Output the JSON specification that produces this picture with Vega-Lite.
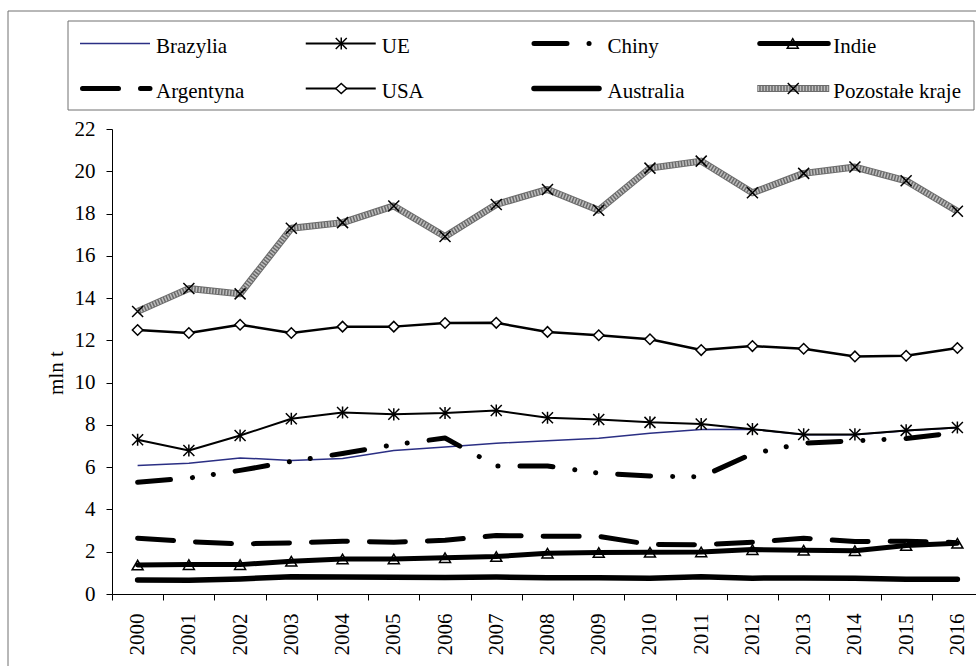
{
  "$schema": "https://vega.github.io/schema/vega-lite/v6.json",
  "width": 968,
  "height": 655,
  "autosize": {"type": "none"},
  "padding": {"left": 8, "top": 11, "right": 0, "bottom": 0},
  "background": "white",
  "config": {"view": {"stroke": null}, "font": "Liberation Serif"},
  "datasets": {
    "dane": [
      {"kraj":"Brazylia","rok":"2000","v":6.08},{"kraj":"Brazylia","rok":"2001","v":6.19},{"kraj":"Brazylia","rok":"2002","v":6.44},{"kraj":"Brazylia","rok":"2003","v":6.32},{"kraj":"Brazylia","rok":"2004","v":6.41},{"kraj":"Brazylia","rok":"2005","v":6.79},{"kraj":"Brazylia","rok":"2006","v":6.96},{"kraj":"Brazylia","rok":"2007","v":7.13},{"kraj":"Brazylia","rok":"2008","v":7.25},{"kraj":"Brazylia","rok":"2009","v":7.37},{"kraj":"Brazylia","rok":"2010","v":7.6},{"kraj":"Brazylia","rok":"2011","v":7.78},{"kraj":"Brazylia","rok":"2012","v":7.8},{"kraj":"Brazylia","rok":"2013","v":7.53},{"kraj":"Brazylia","rok":"2014","v":7.53},{"kraj":"Brazylia","rok":"2015","v":7.72},{"kraj":"Brazylia","rok":"2016","v":7.86},
      {"kraj":"UE","rok":"2000","v":7.3},{"kraj":"UE","rok":"2001","v":6.79},{"kraj":"UE","rok":"2002","v":7.5},{"kraj":"UE","rok":"2003","v":8.29},{"kraj":"UE","rok":"2004","v":8.59},{"kraj":"UE","rok":"2005","v":8.5},{"kraj":"UE","rok":"2006","v":8.56},{"kraj":"UE","rok":"2007","v":8.68},{"kraj":"UE","rok":"2008","v":8.34},{"kraj":"UE","rok":"2009","v":8.26},{"kraj":"UE","rok":"2010","v":8.12},{"kraj":"UE","rok":"2011","v":8.04},{"kraj":"UE","rok":"2012","v":7.8},{"kraj":"UE","rok":"2013","v":7.55},{"kraj":"UE","rok":"2014","v":7.55},{"kraj":"UE","rok":"2015","v":7.74},{"kraj":"UE","rok":"2016","v":7.88},
      {"kraj":"Chiny","rok":"2000","v":5.29},{"kraj":"Chiny","rok":"2001","v":5.48},{"kraj":"Chiny","rok":"2002","v":5.85},{"kraj":"Chiny","rok":"2003","v":6.27},{"kraj":"Chiny","rok":"2004","v":6.65},{"kraj":"Chiny","rok":"2005","v":7.06},{"kraj":"Chiny","rok":"2006","v":7.38},{"kraj":"Chiny","rok":"2007","v":6.06},{"kraj":"Chiny","rok":"2008","v":6.06},{"kraj":"Chiny","rok":"2009","v":5.72},{"kraj":"Chiny","rok":"2010","v":5.58},{"kraj":"Chiny","rok":"2011","v":5.54},{"kraj":"Chiny","rok":"2012","v":6.64},{"kraj":"Chiny","rok":"2013","v":7.14},{"kraj":"Chiny","rok":"2014","v":7.25},{"kraj":"Chiny","rok":"2015","v":7.36},{"kraj":"Chiny","rok":"2016","v":7.64},
      {"kraj":"Indie","rok":"2000","v":1.37},{"kraj":"Indie","rok":"2001","v":1.39},{"kraj":"Indie","rok":"2002","v":1.39},{"kraj":"Indie","rok":"2003","v":1.55},{"kraj":"Indie","rok":"2004","v":1.66},{"kraj":"Indie","rok":"2005","v":1.66},{"kraj":"Indie","rok":"2006","v":1.72},{"kraj":"Indie","rok":"2007","v":1.77},{"kraj":"Indie","rok":"2008","v":1.93},{"kraj":"Indie","rok":"2009","v":1.96},{"kraj":"Indie","rok":"2010","v":1.97},{"kraj":"Indie","rok":"2011","v":1.99},{"kraj":"Indie","rok":"2012","v":2.1},{"kraj":"Indie","rok":"2013","v":2.07},{"kraj":"Indie","rok":"2014","v":2.05},{"kraj":"Indie","rok":"2015","v":2.29},{"kraj":"Indie","rok":"2016","v":2.4},
      {"kraj":"Argentyna","rok":"2000","v":2.64},{"kraj":"Argentyna","rok":"2001","v":2.48},{"kraj":"Argentyna","rok":"2002","v":2.37},{"kraj":"Argentyna","rok":"2003","v":2.42},{"kraj":"Argentyna","rok":"2004","v":2.5},{"kraj":"Argentyna","rok":"2005","v":2.45},{"kraj":"Argentyna","rok":"2006","v":2.54},{"kraj":"Argentyna","rok":"2007","v":2.77},{"kraj":"Argentyna","rok":"2008","v":2.73},{"kraj":"Argentyna","rok":"2009","v":2.73},{"kraj":"Argentyna","rok":"2010","v":2.34},{"kraj":"Argentyna","rok":"2011","v":2.33},{"kraj":"Argentyna","rok":"2012","v":2.45},{"kraj":"Argentyna","rok":"2013","v":2.64},{"kraj":"Argentyna","rok":"2014","v":2.48},{"kraj":"Argentyna","rok":"2015","v":2.5},{"kraj":"Argentyna","rok":"2016","v":2.43},
      {"kraj":"USA","rok":"2000","v":12.49},{"kraj":"USA","rok":"2001","v":12.35},{"kraj":"USA","rok":"2002","v":12.74},{"kraj":"USA","rok":"2003","v":12.35},{"kraj":"USA","rok":"2004","v":12.65},{"kraj":"USA","rok":"2005","v":12.65},{"kraj":"USA","rok":"2006","v":12.82},{"kraj":"USA","rok":"2007","v":12.83},{"kraj":"USA","rok":"2008","v":12.4},{"kraj":"USA","rok":"2009","v":12.24},{"kraj":"USA","rok":"2010","v":12.05},{"kraj":"USA","rok":"2011","v":11.54},{"kraj":"USA","rok":"2012","v":11.73},{"kraj":"USA","rok":"2013","v":11.6},{"kraj":"USA","rok":"2014","v":11.24},{"kraj":"USA","rok":"2015","v":11.27},{"kraj":"USA","rok":"2016","v":11.64},
      {"kraj":"Australia","rok":"2000","v":0.66},{"kraj":"Australia","rok":"2001","v":0.65},{"kraj":"Australia","rok":"2002","v":0.71},{"kraj":"Australia","rok":"2003","v":0.82},{"kraj":"Australia","rok":"2004","v":0.8},{"kraj":"Australia","rok":"2005","v":0.79},{"kraj":"Australia","rok":"2006","v":0.78},{"kraj":"Australia","rok":"2007","v":0.8},{"kraj":"Australia","rok":"2008","v":0.77},{"kraj":"Australia","rok":"2009","v":0.77},{"kraj":"Australia","rok":"2010","v":0.74},{"kraj":"Australia","rok":"2011","v":0.82},{"kraj":"Australia","rok":"2012","v":0.75},{"kraj":"Australia","rok":"2013","v":0.76},{"kraj":"Australia","rok":"2014","v":0.74},{"kraj":"Australia","rok":"2015","v":0.7},{"kraj":"Australia","rok":"2016","v":0.7},
      {"kraj":"Pozostałe kraje","rok":"2000","v":13.37},{"kraj":"Pozostałe kraje","rok":"2001","v":14.45},{"kraj":"Pozostałe kraje","rok":"2002","v":14.2},{"kraj":"Pozostałe kraje","rok":"2003","v":17.3},{"kraj":"Pozostałe kraje","rok":"2004","v":17.57},{"kraj":"Pozostałe kraje","rok":"2005","v":18.36},{"kraj":"Pozostałe kraje","rok":"2006","v":16.91},{"kraj":"Pozostałe kraje","rok":"2007","v":18.43},{"kraj":"Pozostałe kraje","rok":"2008","v":19.14},{"kraj":"Pozostałe kraje","rok":"2009","v":18.16},{"kraj":"Pozostałe kraje","rok":"2010","v":20.15},{"kraj":"Pozostałe kraje","rok":"2011","v":20.48},{"kraj":"Pozostałe kraje","rok":"2012","v":18.98},{"kraj":"Pozostałe kraje","rok":"2013","v":19.9},{"kraj":"Pozostałe kraje","rok":"2014","v":20.2},{"kraj":"Pozostałe kraje","rok":"2015","v":19.55},{"kraj":"Pozostałe kraje","rok":"2016","v":18.11}
    ],
    "legenda": [
      {"kraj":"Brazylia","col":"0","row":"0"},
      {"kraj":"UE","col":"1","row":"0"},
      {"kraj":"Chiny","col":"2","row":"0"},
      {"kraj":"Indie","col":"3","row":"0"},
      {"kraj":"Argentyna","col":"0","row":"1"},
      {"kraj":"USA","col":"1","row":"1"},
      {"kraj":"Australia","col":"2","row":"1"},
      {"kraj":"Pozostałe kraje","col":"3","row":"1"}
    ]
  },
  "layer": [
    {
      "data": {"values": [{}]},
      "mark": {"type": "rect", "filled": false, "stroke": "#707070", "strokeWidth": 1},
      "encoding": {
        "x": {"datum": 0, "type": "quantitative", "scale": {"domain": [0, 1], "range": [0, 1000]}, "axis": null},
        "x2": {"datum": 1},
        "y": {"datum": 0, "type": "quantitative", "scale": {"domain": [0, 1], "range": [0, 700]}, "axis": null},
        "y2": {"datum": 1}
      }
    },
    {
      "data": {"name": "dane"},
      "encoding": {
        "x": {
          "field": "rok", "type": "ordinal", "bandPosition": 0.5,
          "scale": {"type": "band", "range": [104, 975], "paddingInner": 0, "paddingOuter": 0},
          "axis": {
            "title": null, "offset": -72, "tickBand": "extent", "labelAngle": -90,
            "labelAlign": "right", "labelBaseline": "middle", "labelPadding": 13,
            "labelFont": "Liberation Serif", "labelFontSize": 21, "labelColor": "black",
            "tickColor": "black", "tickSize": 6, "tickWidth": 1, "domainColor": "black", "domainWidth": 1,
            "grid": false, "labelOverlap": false, "labelBound": false
          }
        },
        "y": {
          "field": "v", "type": "quantitative",
          "scale": {"domain": [0, 22], "range": [583, 118], "nice": false, "zero": false},
          "axis": {
            "title": "mln t", "offset": -104, "values": [0,2,4,6,8,10,12,14,16,18,20,22],
            "labelFont": "Liberation Serif", "labelFontSize": 21, "labelColor": "black", "labelPadding": 11,
            "tickColor": "black", "tickSize": 6, "tickWidth": 1, "domainColor": "black", "domainWidth": 1,
            "grid": false, "labelOverlap": false,
            "titleFont": "Liberation Serif", "titleFontSize": 21, "titleFontWeight": "normal", "titleColor": "black",
            "titleAngle": -90, "titleAlign": "center", "titleBaseline": "alphabetic", "titleX": -50, "titleY": 361.5
          }
        }
      },
      "layer": [
        {"transform": [{"filter": "datum.kraj === 'Brazylia'"}], "mark": {"type": "line", "stroke": "#2b2f84", "strokeWidth": 1.5, "strokeJoin": "round"}},
        {"transform": [{"filter": "datum.kraj === 'Argentyna'"}], "mark": {"type": "line", "stroke": "black", "strokeWidth": 5, "strokeDash": [36, 22], "strokeCap": "round", "strokeJoin": "round"}},
        {"transform": [{"filter": "datum.kraj === 'Australia'"}], "mark": {"type": "line", "stroke": "black", "strokeWidth": 5.5, "strokeCap": "round", "strokeJoin": "round"}},
        {"transform": [{"filter": "datum.kraj === 'Chiny'"}], "mark": {"type": "line", "stroke": "black", "strokeWidth": 5, "strokeDash": [33, 22, 0.1, 21, 0.1, 22], "strokeCap": "round", "strokeJoin": "round"}},
        {"transform": [{"filter": "datum.kraj === 'UE'"}], "mark": {"type": "line", "stroke": "black", "strokeWidth": 2, "strokeJoin": "round"}},
        {"transform": [{"filter": "datum.kraj === 'UE'"}], "mark": {"type": "point", "shape": "M-1,-1L1,1M-1,1L1,-1M0,-1.1L0,1.1", "size": 121, "filled": false, "stroke": "black", "strokeWidth": 1.5, "opacity": 1}},
        {"transform": [{"filter": "datum.kraj === 'USA'"}], "mark": {"type": "line", "stroke": "black", "strokeWidth": 2.5, "strokeJoin": "round"}},
        {"transform": [{"filter": "datum.kraj === 'USA'"}], "mark": {"type": "point", "shape": "diamond", "size": 110, "filled": true, "fill": "white", "stroke": "black", "strokeWidth": 1.5, "opacity": 1}},
        {"transform": [{"filter": "datum.kraj === 'Indie'"}], "mark": {"type": "point", "shape": "triangle-up", "size": 121, "filled": true, "fill": "white", "stroke": "black", "strokeWidth": 1.5, "opacity": 1}},
        {"transform": [{"filter": "datum.kraj === 'Indie'"}], "mark": {"type": "line", "stroke": "black", "strokeWidth": 5, "strokeCap": "round", "strokeJoin": "round"}},
        {"transform": [{"filter": "datum.kraj === 'Pozostałe kraje'"}], "mark": {"type": "line", "stroke": "#6b6b6b", "strokeWidth": 7, "strokeJoin": "round"}},
        {"transform": [{"filter": "datum.kraj === 'Pozostałe kraje'"}], "mark": {"type": "line", "stroke": "#bdbdbd", "strokeWidth": 5, "strokeDash": [1.5, 1.5], "strokeJoin": "round"}},
        {"transform": [{"filter": "datum.kraj === 'Pozostałe kraje'"}], "mark": {"type": "point", "shape": "M-1,-1L1,1M-1,1L1,-1", "size": 121, "filled": false, "stroke": "black", "strokeWidth": 1.5, "opacity": 1}}
      ]
    },
    {
      "data": {"values": [{}]},
      "mark": {"type": "rect", "filled": false, "stroke": "#707070", "strokeWidth": 1},
      "encoding": {
        "x": {"datum": 0, "type": "quantitative", "scale": {"domain": [0, 1], "range": [60, 966]}, "axis": null},
        "x2": {"datum": 1},
        "y": {"datum": 0, "type": "quantitative", "scale": {"domain": [0, 1], "range": [10, 99]}, "axis": null},
        "y2": {"datum": 1}
      }
    },
    {
      "data": {"name": "legenda"},
      "encoding": {
        "x": {"field": "col", "type": "ordinal", "bandPosition": 0, "scale": {"type": "band", "domain": ["0","1","2","3"], "range": [72, 975], "paddingInner": 0, "paddingOuter": 0}, "axis": null},
        "y": {"field": "row", "type": "ordinal", "bandPosition": 0.5, "scale": {"type": "band", "domain": ["0","1"], "range": [10, 100], "paddingInner": 0, "paddingOuter": 0}, "axis": null}
      },
      "layer": [
        {"transform": [{"filter": "datum.kraj === 'Brazylia'"}], "mark": {"type": "point", "shape": "M0,0L70,0", "size": 4, "filled": false, "stroke": "#2b2f84", "strokeWidth": 1.5, "opacity": 1}},
        {"transform": [{"filter": "datum.kraj === 'UE'"}], "mark": {"type": "point", "shape": "M0,0L70,0", "size": 4, "filled": false, "stroke": "black", "strokeWidth": 2, "opacity": 1}},
        {"transform": [{"filter": "datum.kraj === 'UE'"}], "mark": {"type": "point", "shape": "M30,-5.5L41,5.5M30,5.5L41,-5.5M35.5,-6L35.5,6", "size": 4, "filled": false, "stroke": "black", "strokeWidth": 1.5, "opacity": 1}},
        {"transform": [{"filter": "datum.kraj === 'Chiny'"}], "mark": {"type": "point", "shape": "M2.5,0L70,0", "size": 4, "filled": false, "stroke": "black", "strokeWidth": 5, "strokeDash": [33, 22, 0.1, 21, 0.1, 22], "strokeCap": "round", "opacity": 1}},
        {"transform": [{"filter": "datum.kraj === 'Indie'"}], "mark": {"type": "point", "shape": "M35.5,-4.8L30,4.8L41,4.8Z", "size": 4, "filled": true, "fill": "white", "stroke": "black", "strokeWidth": 1.5, "opacity": 1}},
        {"transform": [{"filter": "datum.kraj === 'Indie'"}], "mark": {"type": "point", "shape": "M2.5,0L71,0", "size": 4, "filled": false, "stroke": "black", "strokeWidth": 5, "strokeCap": "round", "opacity": 1}},
        {"transform": [{"filter": "datum.kraj === 'Argentyna'"}], "mark": {"type": "point", "shape": "M2.5,0L70,0", "size": 4, "filled": false, "stroke": "black", "strokeWidth": 5, "strokeDash": [36, 22], "strokeCap": "round", "opacity": 1}},
        {"transform": [{"filter": "datum.kraj === 'USA'"}], "mark": {"type": "point", "shape": "M0,0L70,0", "size": 4, "filled": false, "stroke": "black", "strokeWidth": 2, "opacity": 1}},
        {"transform": [{"filter": "datum.kraj === 'USA'"}], "mark": {"type": "point", "shape": "M30,0L35.5,-5L41,0L35.5,5Z", "size": 4, "filled": true, "fill": "white", "stroke": "black", "strokeWidth": 1.5, "opacity": 1}},
        {"transform": [{"filter": "datum.kraj === 'Australia'"}], "mark": {"type": "point", "shape": "M2.5,0L67.5,0", "size": 4, "filled": false, "stroke": "black", "strokeWidth": 5.5, "strokeCap": "round", "opacity": 1}},
        {"transform": [{"filter": "datum.kraj === 'Pozostałe kraje'"}], "mark": {"type": "point", "shape": "M0,0L72,0", "size": 4, "filled": false, "stroke": "#6b6b6b", "strokeWidth": 7, "opacity": 1}},
        {"transform": [{"filter": "datum.kraj === 'Pozostałe kraje'"}], "mark": {"type": "point", "shape": "M0.5,0L71.5,0", "size": 4, "filled": false, "stroke": "#bdbdbd", "strokeWidth": 5, "strokeDash": [1.5, 1.5], "opacity": 1}},
        {"transform": [{"filter": "datum.kraj === 'Pozostałe kraje'"}], "mark": {"type": "point", "shape": "M30.5,-5.5L41.5,5.5M30.5,5.5L41.5,-5.5", "size": 4, "filled": false, "stroke": "black", "strokeWidth": 1.5, "opacity": 1}},
        {"mark": {"type": "text", "align": "left", "baseline": "alphabetic", "dx": 76, "dy": 9, "font": "Liberation Serif", "fontSize": 21, "fill": "black"}, "encoding": {"text": {"field": "kraj"}}}
      ]
    }
  ],
  "resolve": {"scale": {"x": "independent", "y": "independent"}, "axis": {"x": "independent", "y": "independent"}}
}
